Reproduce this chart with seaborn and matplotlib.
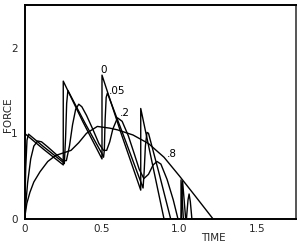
import matplotlib
matplotlib.use("Agg")
import matplotlib.pyplot as plt
import seaborn as sns
import pandas as pd

# ---- data ----
t_0 = [0, 0, 0.125, 0.25, 0.25, 0.375, 0.5, 0.5, 0.625, 0.75, 0.75, 0.83, 0.90, 1.01, 1.01, 1.025]
f_0 = [0, 1.0, 0.81, 0.63, 1.61, 1.14, 0.70, 1.68, 0.99, 0.335, 1.29, 0.60, 0.0, 0.0, 0.455, 0.0]

t_05 = [0, 0.008, 0.016, 0.026, 0.125, 0.25, 0.257, 0.265, 0.272, 0.28, 0.39, 0.5, 0.51, 0.515, 0.52, 0.527, 0.535,
        0.65, 0.765, 0.772, 0.78, 0.79, 0.80, 0.87, 0.943, 1.012, 1.02, 1.04]
f_05 = [0, 0.60, 0.92, 0.99, 0.84, 0.66, 0.645, 0.95, 1.35, 1.50, 1.12, 0.76, 0.72, 0.80, 1.15, 1.42, 1.47,
        0.92, 0.36, 0.55, 0.85, 1.01, 1.00, 0.52, 0.0, 0.0, 0.44, 0.0]

t_2 = [0, 0.02, 0.04, 0.06, 0.085, 0.11, 0.15, 0.2, 0.25, 0.27, 0.29, 0.31, 0.33, 0.35, 0.37, 0.40, 0.44,
       0.48, 0.51, 0.53, 0.55, 0.57, 0.60, 0.63, 0.67, 0.71, 0.74, 0.77, 0.80, 0.83, 0.855, 0.88, 0.92,
       0.96, 0.99, 1.045, 1.055, 1.062, 1.07, 1.08]
f_2 = [0, 0.42, 0.70, 0.85, 0.91, 0.90, 0.84, 0.76, 0.68, 0.68, 0.85, 1.10, 1.28, 1.34, 1.31, 1.21, 1.05,
       0.88, 0.80, 0.80, 0.90, 1.05, 1.18, 1.14, 0.97, 0.75, 0.58, 0.47, 0.52, 0.63, 0.67, 0.64, 0.46,
       0.22, 0.0, 0.0, 0.22, 0.29, 0.20, 0.0]

t_8 = [0, 0.015, 0.035, 0.06, 0.1, 0.15, 0.2, 0.25, 0.3, 0.35, 0.4, 0.47, 0.55, 0.6, 0.7, 0.8, 0.9, 1.0, 1.1, 1.216]
f_8 = [0, 0.18, 0.31, 0.43, 0.55, 0.67, 0.74, 0.77, 0.80, 0.89, 1.00, 1.08, 1.06, 1.04, 0.98, 0.88, 0.72, 0.50, 0.27, 0.0]

series_names = ["0", ".05", ".2", ".8"]
label_pos = {"0": (0.513, 1.74), ".05": (0.597, 1.49), ".2": (0.648, 1.24), ".8": (0.95, 0.76)}

x_ticks = [0, 0.5, 1.0, 1.5]
x_ticklabels = ["0", "0.5", "1.0", "1.5"]
y_ticks = [0, 1, 2]
y_ticklabels = ["0", "1", "2"]
y_minor = [0.5, 1.5]

frames = []
for name, t, f in zip(series_names, [t_0, t_05, t_2, t_8], [f_0, f_05, f_2, f_8]):
    frames.append(pd.DataFrame({"time": t, "force": f, "c": name, "order": range(len(t))}))
df = pd.concat(frames, ignore_index=True)

sns.set_style("white")
plt.rcParams["font.family"] = ["DejaVu Sans"]

fig = plt.figure(figsize=(3.0, 2.44), dpi=100)
ax = fig.add_axes([0.0817, 0.1033, 0.9040, 0.8762])

for name in series_names:
    sub = df[df["c"] == name]
    sns.lineplot(data=sub, x="time", y="force", sort=False, estimator=None,
                 color="black", linewidth=1.0, ax=ax, legend=False)

for name in series_names:
    x, y = label_pos[name]
    ax.text(x, y, name, fontsize=7.5, ha="center", va="center", color="black")

ax.set_xlim(0, 1.75)
ax.set_ylim(0, 2.5)
ax.set_xticks(x_ticks)
ax.set_xticklabels(x_ticklabels)
ax.set_yticks(y_ticks)
ax.set_yticklabels(y_ticklabels)
ax.set_yticks(y_minor, minor=True)
ax.tick_params(axis="x", direction="in", length=2.5, width=1.0, pad=4, labelsize=7.5)
ax.tick_params(axis="y", direction="out", length=3, width=1.0, pad=2, labelsize=7.5)
ax.tick_params(axis="y", which="minor", direction="out", length=2, width=1.0)
ax.set_xlabel("")
ax.set_ylabel("")
fig.text(213 / 300, 1 - 238 / 244, "TIME", fontsize=7.5, ha="center", va="center")
fig.text(8 / 300, 1 - 115 / 244, "FORCE", fontsize=7.5, ha="center", va="center", rotation=90)

for side in ["left", "bottom", "top"]:
    ax.spines[side].set_linewidth(1.4)
    ax.spines[side].set_color("black")
ax.spines["right"].set_linewidth(1.4)
ax.spines["right"].set_color("#555555")

fig.savefig("out.png", dpi=100)
